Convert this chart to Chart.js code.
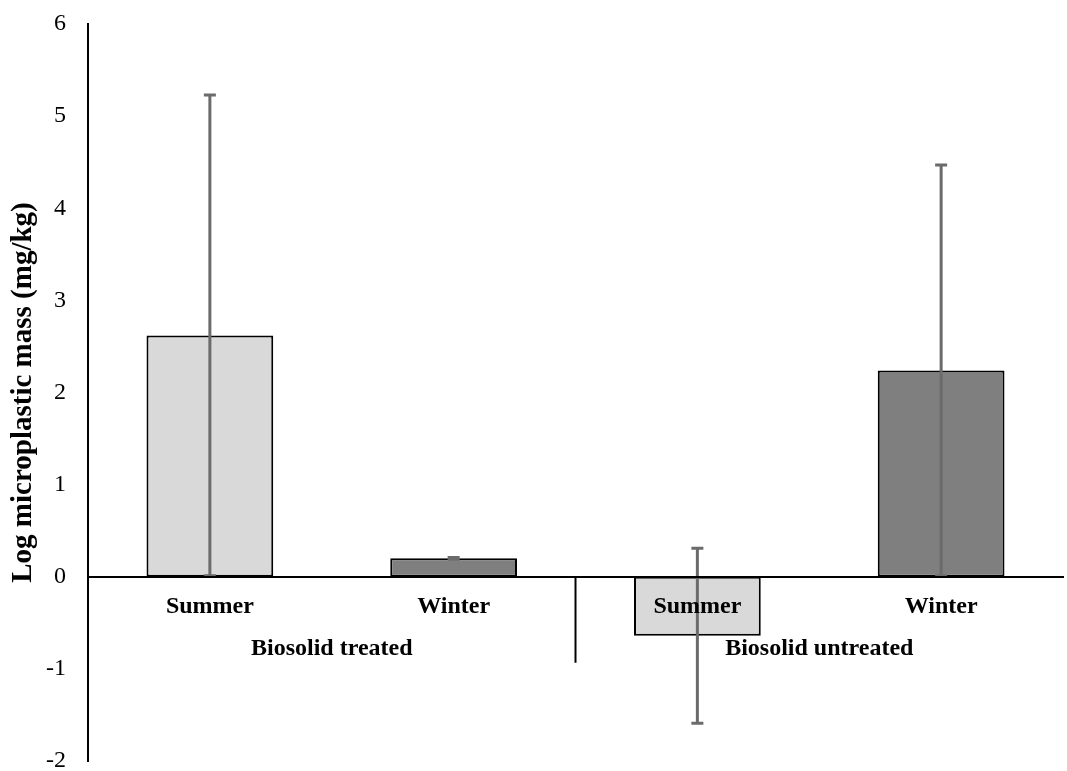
<!DOCTYPE html>
<html>
<head>
<meta charset="utf-8">
<script src="https://cdn.jsdelivr.net/npm/chart.js@4"></script>
<style>
  html, body { margin: 0; padding: 0; background: #fff; }
  #wrap { width: 1067px; height: 771px; }
</style>
</head>
<body>
<div id="wrap"><canvas id="massChart"></canvas></div>
<script>
// Dados do gráfico
const seasons = ["Summer", "Winter", "Summer", "Winter"];
const groups = ["Biosolid treated", "Biosolid untreated"];
const meanValues = [2.62, 0.2, -0.64, 2.24];
const errValues = [2.61, 0.01, 0.95, 2.23];
const barColors = ["#d9d9d9", "#7f7f7f", "#d9d9d9", "#7f7f7f"];
const yTicks = [-2, -1, 0, 1, 2, 3, 4, 5, 6];

const serif = "'Liberation Serif', 'Times New Roman', serif";

// Barras de erro
const errorBars = {
  id: "errorBars",
  afterDatasetsDraw(chart) {
    const ctx = chart.ctx;
    const meta = chart.getDatasetMeta(0);
    const y = chart.scales.y;
    ctx.save();
    ctx.strokeStyle = "#6b6b6b";
    ctx.lineWidth = 3;
    meta.data.forEach((bar, i) => {
      const top = y.getPixelForValue(meanValues[i] + errValues[i]);
      const bot = y.getPixelForValue(meanValues[i] - errValues[i]);
      ctx.beginPath();
      ctx.moveTo(bar.x, top);
      ctx.lineTo(bar.x, bot);
      ctx.moveTo(bar.x - 6, top);
      ctx.lineTo(bar.x + 6, top);
      ctx.moveTo(bar.x - 6, bot);
      ctx.lineTo(bar.x + 6, bot);
      ctx.stroke();
    });
    ctx.restore();
  },
};

// Rótulos dos grupos e divisória
const groupLabels = {
  id: "groupLabels",
  afterDraw(chart) {
    const ctx = chart.ctx;
    const x = chart.scales.x;
    const y = chart.scales.y;
    const zero = y.getPixelForValue(0);
    ctx.save();
    ctx.font = "bold 24px " + serif;
    ctx.fillStyle = "#000";
    ctx.textAlign = "center";
    ctx.textBaseline = "middle";
    groups.forEach((g, k) => {
      const cx = (x.getPixelForValue(2 * k) + x.getPixelForValue(2 * k + 1)) / 2;
      ctx.fillText(g, cx, zero + 72);
    });
    const dx = (x.getPixelForValue(1) + x.getPixelForValue(2)) / 2;
    ctx.strokeStyle = "#000";
    ctx.lineWidth = 2;
    ctx.beginPath();
    ctx.moveTo(dx, zero);
    ctx.lineTo(dx, zero + 86);
    ctx.stroke();
    ctx.restore();
  },
};

const chartData = {
  labels: seasons,
  datasets: [
    {
      data: meanValues,
      backgroundColor: barColors,
      borderColor: "#000",
      borderWidth: 2,
      borderSkipped: false,
      categoryPercentage: 1,
      barPercentage: 0.52,
    },
  ],
};

const chartConfig = {
  type: "bar",
  data: chartData,
  options: {
    responsive: true,
    maintainAspectRatio: false,
    animation: false,
    layout: { padding: { top: 24, right: 4, bottom: 10, left: 6 } },
    plugins: {
      legend: { display: false },
      tooltip: { enabled: false },
    },
    scales: {
      x: {
        position: { y: 0 },
        grid: { display: false, drawTicks: false },
        border: { color: "#000", width: 2, z: 1 },
        ticks: {
          z: 1,
          color: "#000",
          padding: 16,
          font: { family: serif, size: 24, weight: "bold" },
        },
        afterFit(axis) {
          axis.height = 0;
          axis.paddingLeft = 0;
          axis.paddingRight = 0;
        },
      },
      y: {
        min: -2,
        max: 6,
        afterBuildTicks(axis) {
          axis.ticks = yTicks.map((v) => ({ value: v }));
        },
        grid: { display: false, drawTicks: false },
        border: { color: "#000", width: 2 },
        ticks: {
          color: "#000",
          padding: 22,
          font: { family: serif, size: 24 },
        },
        title: {
          display: true,
          text: "Log microplastic mass (mg/kg)",
          color: "#000",
          font: { family: serif, size: 29, weight: "bold" },
          padding: { top: 0, bottom: 6 },
        },
        afterFit(axis) {
          axis.width = 82;
          axis.paddingTop = 0;
          axis.paddingBottom = 0;
        },
      },
    },
  },
  plugins: [errorBars, groupLabels],
};

new Chart(document.getElementById("massChart"), chartConfig);
</script>
</body>
</html>
